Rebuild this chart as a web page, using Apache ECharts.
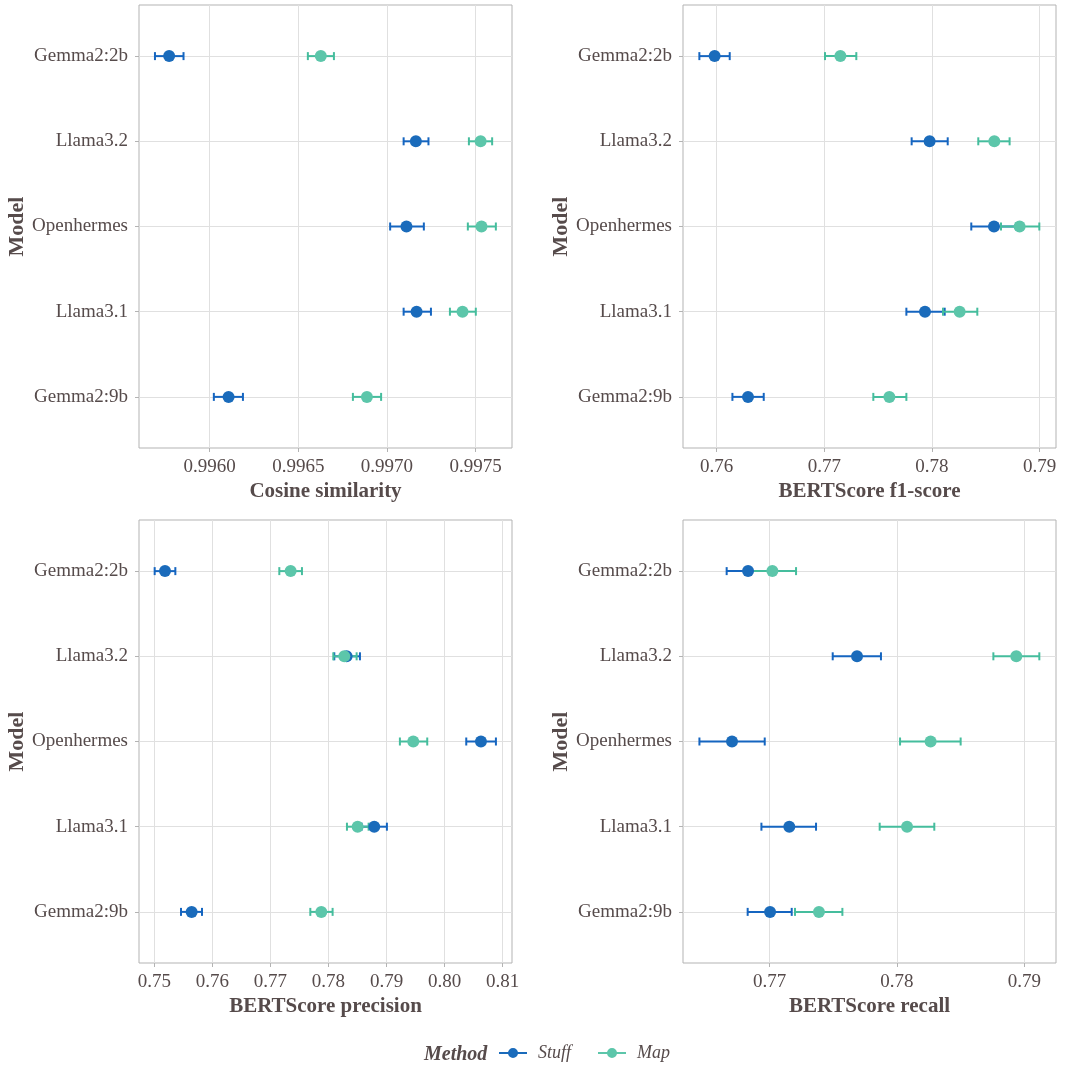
<!DOCTYPE html>
<html>
<head>
<meta charset="utf-8">
<script src="https://cdn.jsdelivr.net/npm/echarts@6/dist/echarts.min.js"></script>
<style>
  html, body { margin: 0; padding: 0; background: #fff; }
  #main { width: 1092px; height: 1065px; }
</style>
</head>
<body>
<div id="main"></div>
<script>
// models, top to bottom
var models = ['Gemma2:2b', 'Llama3.2', 'Openhermes', 'Llama3.1', 'Gemma2:9b'];

// [mean, lower, upper] per model
var cosineStuff = [[0.995772, 0.995692, 0.995853], [0.997163, 0.997094, 0.997234], [0.997110, 0.997018, 0.997208], [0.997167, 0.997094, 0.997248], [0.996107, 0.996024, 0.996188]];
var cosineMap = [[0.996627, 0.996554, 0.996701], [0.997528, 0.997462, 0.997593], [0.997533, 0.997456, 0.997614], [0.997426, 0.997355, 0.997501], [0.996887, 0.996808, 0.996967]];

var f1Stuff = [[0.75981, 0.75839, 0.76121], [0.77978, 0.77811, 0.78146], [0.78576, 0.78365, 0.78783], [0.77935, 0.77762, 0.78118], [0.76291, 0.76146, 0.76437]];
var f1Map = [[0.77149, 0.77006, 0.77297], [0.78579, 0.78430, 0.78721], [0.78814, 0.78641, 0.78997], [0.78257, 0.78102, 0.78421], [0.77604, 0.77455, 0.77762]];

var precStuff = [[0.75184, 0.75006, 0.75362], [0.78312, 0.78100, 0.78542], [0.80626, 0.80373, 0.80884], [0.78788, 0.78570, 0.79006], [0.75643, 0.75459, 0.75821]];
var precMap = [[0.77348, 0.77153, 0.77543], [0.78272, 0.78083, 0.78485], [0.79460, 0.79230, 0.79701], [0.78502, 0.78318, 0.78691], [0.77876, 0.77687, 0.78071]];

var recStuff = [[0.76830, 0.76662, 0.76997], [0.77686, 0.77495, 0.77874], [0.76704, 0.76448, 0.76961], [0.77154, 0.76935, 0.77364], [0.77003, 0.76827, 0.77173]];
var recMap = [[0.77021, 0.76835, 0.77207], [0.78937, 0.78757, 0.79118], [0.78264, 0.78024, 0.78500], [0.78079, 0.77864, 0.78293], [0.77387, 0.77199, 0.77571]];

// x axis ticks per panel
var cosineTicks = [0.996, 0.9965, 0.997, 0.9975];
var f1Ticks = [0.76, 0.77, 0.78, 0.79];
var precTicks = [0.75, 0.76, 0.77, 0.78, 0.79, 0.80, 0.81];
var recTicks = [0.77, 0.78, 0.79];

var FONT = 'Liberation Serif';
var TXT = '#564b4b';
var STUFF = '#1a6bbb';
var STUFF_BAR = '#1565c0';
var MAP = '#5cc6aa';
var MAP_BAR = '#45bd9d';

var panels = [
    {name: 'Cosine similarity', stuff: cosineStuff, map: cosineMap, ticks: cosineTicks, min: 0.995602, max: 0.997705, dec: 4, left: 139, top: 5},
    {name: 'BERTScore f1-score', stuff: f1Stuff, map: f1Map, ticks: f1Ticks, min: 0.75687, max: 0.79152, dec: 2, left: 683, top: 5},
    {name: 'BERTScore precision', stuff: precStuff, map: precMap, ticks: precTicks, min: 0.74736, max: 0.81161, dec: 2, left: 139, top: 520},
    {name: 'BERTScore recall', stuff: recStuff, map: recMap, ticks: recTicks, min: 0.76319, max: 0.79249, dec: 2, left: 683, top: 520}
];

var grids = [], xAxes = [], yAxes = [], series = [];

function errorBars(idx, data, color) {
    return {
        type: 'custom',
        xAxisIndex: idx,
        yAxisIndex: idx,
        silent: true,
        data: data.map(function (d, i) { return [d[1], d[2], i + 1]; }),
        renderItem: function (params, api) {
            var a = api.coord([api.value(0), api.value(2)]);
            var b = api.coord([api.value(1), api.value(2)]);
            var st = {stroke: color, lineWidth: 2};
            return {
                type: 'group',
                children: [
                    {type: 'line', shape: {x1: a[0], y1: a[1], x2: b[0], y2: b[1]}, style: st},
                    {type: 'line', shape: {x1: a[0], y1: a[1] - 4, x2: a[0], y2: a[1] + 4}, style: st},
                    {type: 'line', shape: {x1: b[0], y1: b[1] - 4, x2: b[0], y2: b[1] + 4}, style: st}
                ]
            };
        }
    };
}

function points(idx, name, data, color) {
    return {
        type: 'scatter',
        name: name,
        xAxisIndex: idx,
        yAxisIndex: idx,
        symbolSize: 12,
        itemStyle: {color: color, opacity: 1},
        data: data.map(function (d, i) { return [d[0], i + 1]; })
    };
}

panels.forEach(function (p, i) {
    grids.push({left: p.left, top: p.top, width: 373, height: 443, show: true, borderColor: '#b3b3b3', borderWidth: 1, backgroundColor: '#fff'});
    xAxes.push({
        type: 'value', gridIndex: i, min: p.min, max: p.max,
        name: p.name, nameLocation: 'middle', nameGap: 33,
        nameTextStyle: {fontFamily: FONT, fontSize: 21, fontWeight: 'bold', color: TXT},
        axisLine: {show: false},
        axisTick: {show: true, length: 4, lineStyle: {color: '#b3b3b3'}, customValues: p.ticks},
        axisLabel: {
            fontFamily: FONT, fontSize: 19, color: TXT, margin: 10, customValues: p.ticks,
            formatter: (function (dec) { return function (v) { return v.toFixed(dec); }; })(p.dec)
        },
        splitLine: {show: true, lineStyle: {color: '#e0e0e0', width: 1}}
    });
    yAxes.push({
        type: 'value', gridIndex: i, min: 0.4, max: 5.6, inverse: true,
        name: 'Model', nameLocation: 'middle', nameGap: 107, nameRotate: 90,
        nameTextStyle: {fontFamily: FONT, fontSize: 22, fontWeight: 'bold', color: TXT},
        axisLine: {show: false},
        axisTick: {show: true, length: 4, lineStyle: {color: '#b3b3b3'}, customValues: [1, 2, 3, 4, 5]},
        axisLabel: {
            fontFamily: FONT, fontSize: 19, color: TXT, margin: 11, customValues: [1, 2, 3, 4, 5],
            formatter: function (v) { return models[Math.round(v) - 1] || ''; }
        },
        splitLine: {show: true, lineStyle: {color: '#e0e0e0', width: 1}}
    });
    series.push(errorBars(i, p.stuff, STUFF_BAR));
    series.push(points(i, 'Stuff', p.stuff, STUFF));
    series.push(errorBars(i, p.map, MAP_BAR));
    series.push(points(i, 'Map', p.map, MAP));
});

var legendIcon = 'path://M0,4 L28,4 L28,6 L0,6 Z M14,0 A5,5 0 1,1 14,10 A5,5 0 1,1 14,0 Z';

var chart = echarts.init(document.getElementById('main'), null, {renderer: 'canvas'});
chart.setOption({
    backgroundColor: '#fff',
    animation: false,
    title: {
        text: 'Method', left: 419, top: 1040,
        textStyle: {fontFamily: FONT, fontSize: 20, fontWeight: 'bold', fontStyle: 'italic', color: TXT}
    },
    legend: {
        data: ['Stuff', 'Map'],
        left: 494, top: 1039,
        icon: legendIcon,
        itemWidth: 28, itemHeight: 10, itemGap: 27,
        textStyle: {fontFamily: FONT, fontSize: 18, fontStyle: 'italic', color: TXT, padding: [0, 0, 0, 6]}
    },
    grid: grids,
    xAxis: xAxes,
    yAxis: yAxes,
    series: series
});
</script>
</body>
</html>
